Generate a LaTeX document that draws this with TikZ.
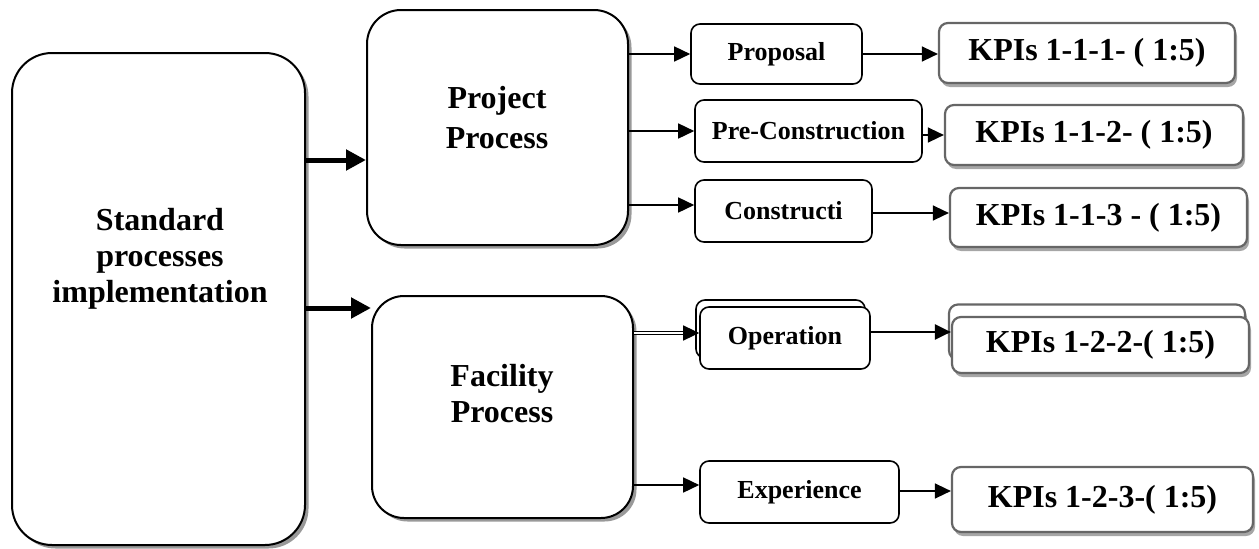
\documentclass[tikz,border=0pt]{standalone}
\usepackage{fontspec}
\setmainfont{Liberation Serif}
\usetikzlibrary{arrows.meta,shadows,calc}

\begin{document}
\begin{tikzpicture}[x=1pt,y=-1pt,
  bigbox/.style={draw=black, line width=2pt, fill=white, inner sep=0pt,
    drop shadow={shadow xshift=3.5pt, shadow yshift=-3.5pt, fill=black!40, opacity=1}},
  bigtext/.style={align=center, inner sep=0pt,
    font=\fontsize{32}{36}\selectfont\bfseries},
  smallbox/.style={draw=black, line width=1.6pt, fill=white, rounded corners=9pt,
    inner sep=0pt, font=\fontsize{26}{30}\selectfont\bfseries},
  kpibox/.style={draw=black!60, line width=2.2pt, fill=white, rounded corners=9pt,
    inner sep=0pt, font=\fontsize{32}{36}\selectfont\bfseries,
    drop shadow={shadow xshift=2pt, shadow yshift=-4pt, fill=black!35, opacity=1}},
  thinarrow/.style={line width=1.5pt, -{Triangle[length=16pt,width=15pt]}},
  medarrow/.style={line width=2.5pt, -{Triangle[length=16pt,width=15pt]}},
  bigarrow/.style={line width=5pt, -{Triangle[length=20pt,width=20pt]}},
  dblarrow/.style={double, double distance=2.5pt, line width=1.2pt,
    -{Triangle[length=16pt,width=15pt]}}
]
\useasboundingbox (0,0) rectangle (1259,549);

% main process boxes
\node[bigbox, rounded corners=40pt, minimum width=293pt, minimum height=492pt] (std) at (158.5,299) {};
\node[bigtext] (stdtext) at (160,259) {Standard\\processes\\implementation};

\node[bigbox, rounded corners=34pt, minimum width=261pt, minimum height=235pt] (proj) at (497.5,127.5) {};
\node[bigtext] (projtext) at (497,118) {Project\\[4pt]Process};

\node[bigbox, rounded corners=32pt, minimum width=261pt, minimum height=222pt] (fac) at (502.5,407) {};
\node[bigtext] (factext) at (502,394) {Facility\\Process};

% sub-process boxes
\node[smallbox, minimum width=171pt, minimum height=60pt] (prop) at (776.5,54) {Proposal};
\node[smallbox, minimum width=227pt, minimum height=62pt] (pre) at (808.5,131) {Pre-Construction};
\node[smallbox, minimum width=177pt, minimum height=62pt] (con) at (783.5,211) {Constructi};
\node[smallbox, minimum width=169pt, minimum height=58pt] (opback) at (780.5,329) {};
\node[smallbox, minimum width=170pt, minimum height=62pt] (op) at (785,338) {Operation};
\node[smallbox, minimum width=199pt, minimum height=62pt] (exp) at (799.5,492) {Experience};

% KPI boxes
\node[kpibox, minimum width=296pt, minimum height=60pt] (k111) at (1087,53) {KPIs 1-1-1- ( 1:5)};
\node[kpibox, minimum width=298pt, minimum height=60pt] (k112) at (1094,135) {KPIs 1-1-2- ( 1:5)};
\node[kpibox, minimum width=297pt, minimum height=59pt] (k113) at (1098.5,217.5) {KPIs 1-1-3 - ( 1:5)};
\node[kpibox, minimum width=296pt, minimum height=55pt] (k122back) at (1097,332) {};
\node[kpibox, minimum width=297pt, minimum height=56pt] (k122) at (1100.5,345) {KPIs 1-2-2-( 1:5)};
\node[kpibox, minimum width=301pt, minimum height=65pt] (k123) at (1102.5,499.5) {KPIs 1-2-3-( 1:5)};

% connector levels
\coordinate (ya) at (0,160);
\coordinate (yb) at (0,308);
\coordinate (yc) at (0,205);
\coordinate (yd) at (0,333);
\coordinate (ye) at (0,485);
\coordinate (yf) at (0,135);
\coordinate (yg) at (0,213);
\coordinate (yh) at (0,332);
\coordinate (yi) at (0,491);

% connectors
\draw[bigarrow] (std.east |- ya) -- (proj.west |- ya);
\draw[bigarrow] (std.east |- yb) -- (fac.west |- yb);

\draw[thinarrow] (proj.east |- prop.west) -- (prop.west);
\draw[thinarrow] (proj.east |- pre.west) -- (pre.west);
\draw[thinarrow] (proj.east |- yc) -- (con.west |- yc);

\draw[dblarrow] (fac.east |- yd) -- (op.west |- yd);
\draw[thinarrow] (fac.east |- ye) -- (exp.west |- ye);

\draw[thinarrow] (prop.east) -- (k111.west |- prop.east);
\draw[thinarrow] (pre.east |- yf) -- (k112.west |- yf);
\draw[thinarrow] (con.east |- yg) -- (k113.west |- yg);
\draw[medarrow] (op.east |- yh) -- (k122.west |- yh);
\draw[thinarrow] (exp.east |- yi) -- (k123.west |- yi);
\end{tikzpicture}
\end{document}
